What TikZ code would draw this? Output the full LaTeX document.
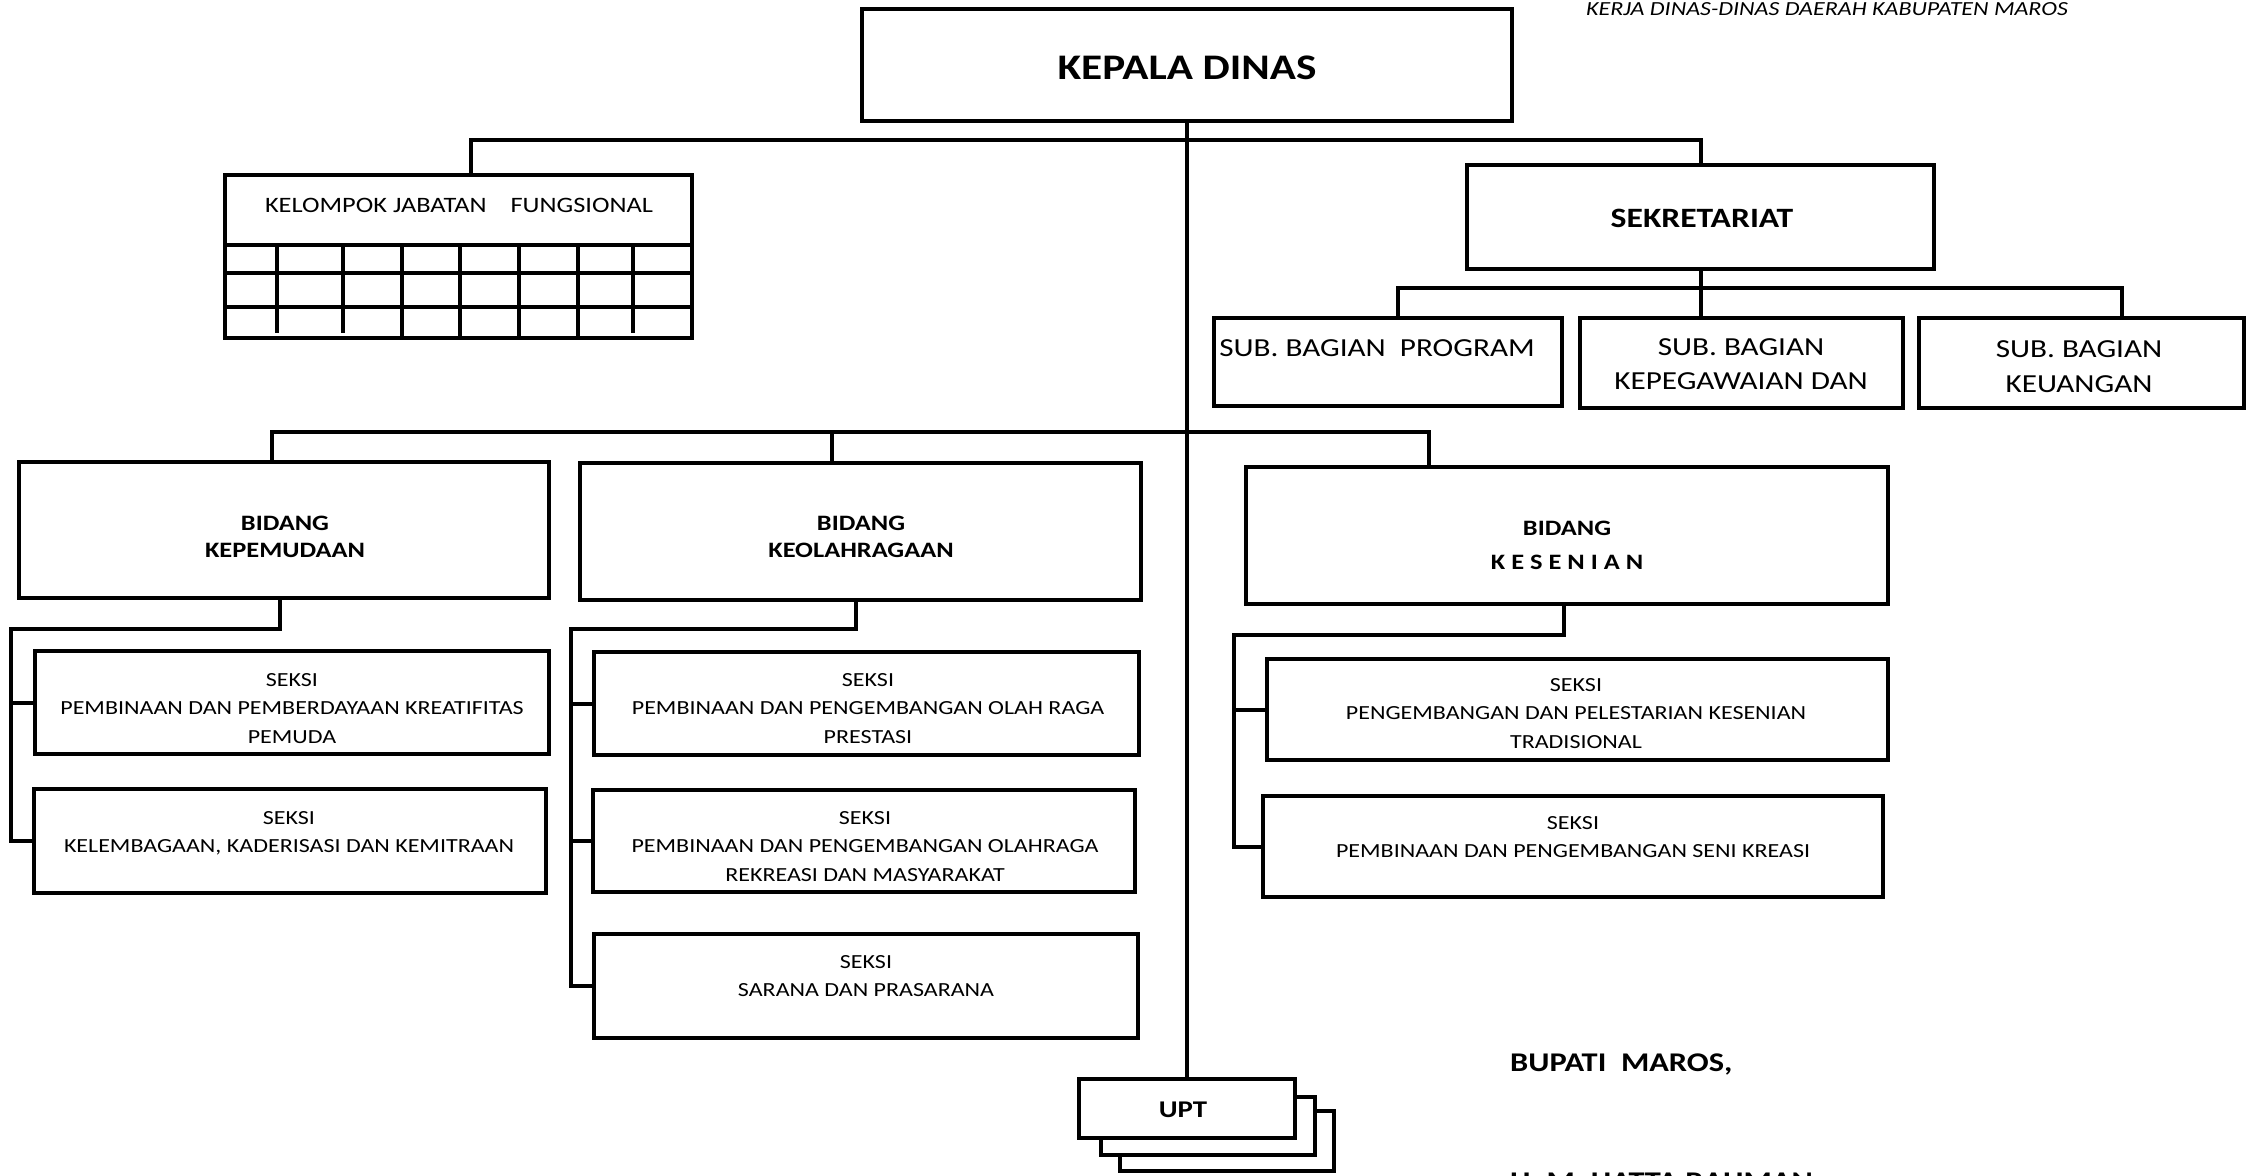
\documentclass[tikz,border=0pt]{standalone}
\usepackage{fontspec}
\setmainfont{Carlito}[FakeStretch=1.2]
\begin{document}
\begin{tikzpicture}[x=1pt,y=-1pt,
  box/.style={draw, line width=4.5pt, fill=white, inner sep=0pt, outer sep=0pt},
  conn/.style={line width=4pt},
  grid/.style={line width=4pt},
  lbl/.style={inner sep=0pt, outer sep=0pt, align=center, anchor=north},
  fkd/.style={font=\bfseries\fontsize{36}{40}\selectfont},
  fsek/.style={font=\bfseries\fontsize{28}{32}\selectfont},
  fkjf/.style={font=\fontsize{22}{27}\selectfont},
  fsub/.style={font=\fontsize{26}{34.5}\selectfont},
  fbid/.style={font=\bfseries\fontsize{22}{27.5}\selectfont},
  fbid2/.style={font=\bfseries\fontsize{22}{34}\selectfont},
  fsek2/.style={font=\fontsize{20}{28.5}\selectfont},
  fupt/.style={font=\bfseries\fontsize{24}{28}\selectfont},
  fsig/.style={font=\bfseries\fontsize{27}{32}\selectfont},
  fhdr/.style={font=\itshape\fontsize{20}{24}\selectfont}
]
\useasboundingbox (0,0) rectangle (2248,1175);
\fill[white] (0,0) rectangle (2248,1175);
\clip (0,0) rectangle (2248,1175);

% header
\node[inner sep=0pt, anchor=base west, fhdr] (hdr) at (1586,15) {KERJA DINAS-DINAS DAERAH KABUPATEN MAROS};

% boxes
\node[box, minimum width=650pt, minimum height=112pt] (kd) at (1187,65) {};
\node[box, minimum width=467pt, minimum height=163pt] (kjf) at (458.5,256.5) {};
\node[box, minimum width=467pt, minimum height=104pt] (sek) at (1700.5,217) {};
\node[box, minimum width=348pt, minimum height=88pt] (sb1) at (1388,362) {};
\node[box, minimum width=323pt, minimum height=90pt] (sb2) at (1741.5,363) {};
\node[box, minimum width=325pt, minimum height=90pt] (sb3) at (2081.5,363) {};
\node[box, minimum width=530pt, minimum height=136pt] (bk) at (284,530) {};
\node[box, minimum width=561pt, minimum height=137pt] (bo) at (860.5,531.5) {};
\node[box, minimum width=642pt, minimum height=137pt] (bs) at (1567,535.5) {};
\node[box, minimum width=514pt, minimum height=103pt] (sk1) at (292,702.5) {};
\node[box, minimum width=512pt, minimum height=104pt] (sk2) at (290,841) {};
\node[box, minimum width=545pt, minimum height=103pt] (so1) at (866.5,703.5) {};
\node[box, minimum width=542pt, minimum height=102pt] (so2) at (864,841) {};
\node[box, minimum width=544pt, minimum height=104pt] (so3) at (866,986) {};
\node[box, minimum width=621pt, minimum height=101pt] (ss1) at (1577.5,709.5) {};
\node[box, minimum width=620pt, minimum height=101pt] (ss2) at (1573,846.5) {};
\node[box, minimum width=214pt, minimum height=60pt] (upt3) at (1227,1141) {};
\node[box, minimum width=214pt, minimum height=58pt] (upt2) at (1208,1126) {};
\node[box, minimum width=216pt, minimum height=59pt] (upt1) at (1187,1108.5) {};

% grid of kelompok jabatan fungsional
\foreach \y in {245,273,307} \draw[grid] (225,\y) -- (692,\y);
\foreach \x in {277,343,633} \draw[grid] (\x,243) -- (\x,333);
\foreach \x in {402,460,519,578} \draw[grid] (\x,245) -- (\x,338);

% connectors
\coordinate (busA) at (0,140);
\coordinate (kjfT) at ([xshift=12pt]kjf.north);
\draw[conn] (kjfT) |- (busA -| sek.north) -- (sek.north);
\draw[conn] (kd.south) -- (upt1.north);

\coordinate (busB) at (0,288);
\coordinate (sb1T) at ([xshift=10pt]sb1.north);
\coordinate (sb3T) at ([xshift=40.5pt]sb3.north);
\draw[conn] (sb1T) |- (busB -| sb3T) -- (sb3T);
\draw[conn] (sek.south) -- (sek.south |- sb2.north);

\coordinate (busC) at (0,432);
\coordinate (bkT) at ([xshift=-12pt]bk.north);
\coordinate (boT) at ([xshift=-28.5pt]bo.north);
\coordinate (bsT) at ([xshift=-138pt]bs.north);
\draw[conn] (bkT) |- (busC -| bsT) -- (bsT);
\draw[conn] (boT) -- (boT |- busC);

\coordinate (bkB) at ([xshift=-4pt]bk.south);
\coordinate (spK) at (11,629);
\draw[conn] (bkB) |- (spK) |- (sk2.west);
\draw[conn] (spK |- sk1.west) -- (sk1.west);

\coordinate (boB) at ([xshift=-4.5pt]bo.south);
\coordinate (spO) at (571,629);
\draw[conn] (boB) |- (spO) |- (so3.west);
\draw[conn] (spO |- so1.west) -- (so1.west);
\draw[conn] (spO |- so2.west) -- (so2.west);

\coordinate (bsB) at ([xshift=-3pt]bs.south);
\coordinate (spS) at (1234,635);
\draw[conn] (bsB) |- (spS) |- (ss2.west);
\draw[conn] (spS |- ss1.west) -- (ss1.west);

% labels
\node[lbl, fkd] (kdt) at (1187,56) {KEPALA DINAS};
\node[lbl, fkjf] (kjft) at (459,198) {KELOMPOK JABATAN\ \ \ \ FUNGSIONAL};
\node[lbl, fsek] (sekt) at (1702,209) {SEKRETARIAT};
\node[lbl, fsub] (sb1t) at (1377,339.5) {SUB. BAGIAN\ \ PROGRAM};
\node[lbl, fsub] (sb2t) at (1741,338.5) {SUB. BAGIAN\\KEPEGAWAIAN DAN};
\node[lbl, fsub] (sb3t) at (2079,341) {SUB. BAGIAN\\KEUANGAN};
\node[lbl, fbid] (bkt) at (285,516) {BIDANG\\KEPEMUDAAN};
\node[lbl, fbid] (bot) at (861,516) {BIDANG\\KEOLAHRAGAAN};
\node[lbl, fbid2] (bst) at (1567,521) {BIDANG\\K E S E N I A N};
\node[lbl, fsek2] (sk1t) at (292,673.5) {SEKSI\\PEMBINAAN DAN PEMBERDAYAAN KREATIFITAS\\PEMUDA};
\node[lbl, fsek2] (sk2t) at (289,811.5) {SEKSI\\KELEMBAGAAN, KADERISASI DAN KEMITRAAN};
\node[lbl, fsek2] (so1t) at (868,673.5) {SEKSI\\PEMBINAAN DAN PENGEMBANGAN OLAH RAGA\\PRESTASI};
\node[lbl, fsek2] (so2t) at (865,811.5) {SEKSI\\PEMBINAAN DAN PENGEMBANGAN OLAHRAGA\\REKREASI DAN MASYARAKAT};
\node[lbl, fsek2] (so3t) at (866,955.5) {SEKSI\\SARANA DAN PRASARANA};
\node[lbl, fsek2] (ss1t) at (1576,678.5) {SEKSI\\PENGEMBANGAN DAN PELESTARIAN KESENIAN\\TRADISIONAL};
\node[lbl, fsek2] (ss2t) at (1573,816.5) {SEKSI\\PEMBINAAN DAN PENGEMBANGAN SENI KREASI};
\node[lbl, fupt] (uptt) at (1183,1102) {UPT};

% signature
\node[inner sep=0pt, anchor=base west, fsig] (bup) at (1510,1071) {BUPATI\ \ MAROS,};
\node[inner sep=0pt, anchor=base west, fsig] (nama) at (1510,1190) {H. M. HATTA RAHMAN};
\end{tikzpicture}
\end{document}
